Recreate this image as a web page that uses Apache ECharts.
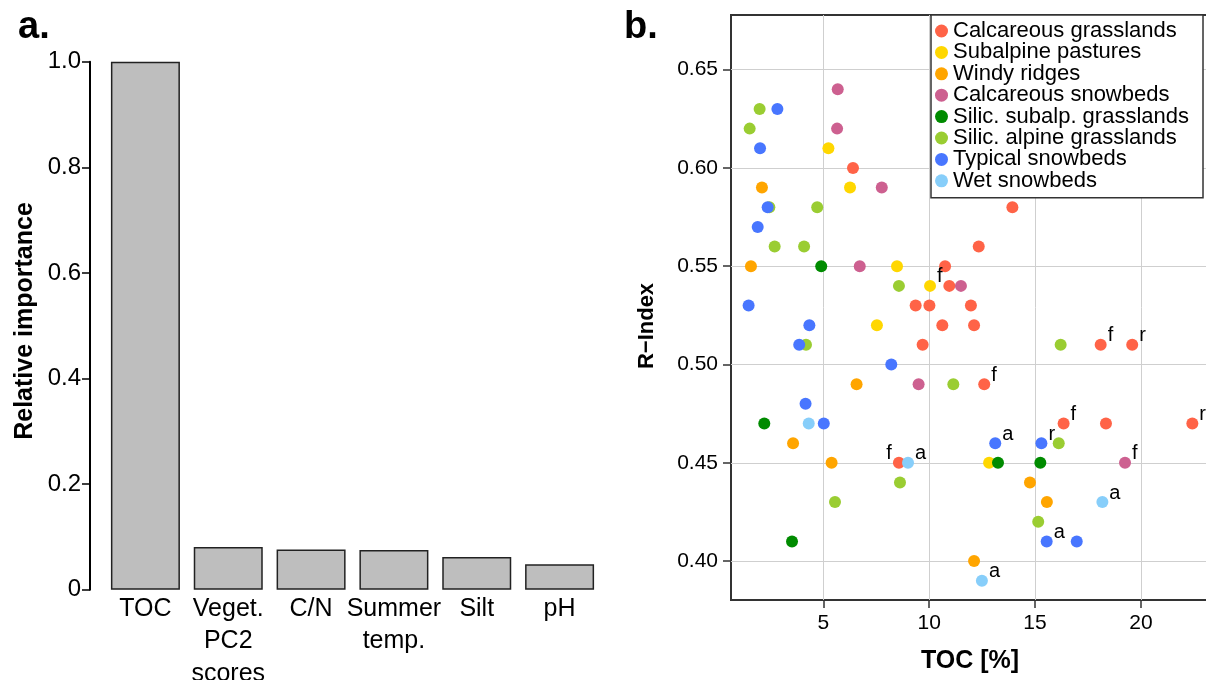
<!DOCTYPE html>
<html>
<head>
<meta charset="utf-8">
<script src="https://cdn.jsdelivr.net/npm/echarts@6/dist/echarts.min.js"></script>
<style>
  html, body { margin: 0; padding: 0; background: #fff; }
  #chart { width: 1206px; height: 680px; }
</style>
</head>
<body>
<div id="chart"></div>
<script>
// ---- Panel a: relative importance of predictors ----
const predictors = ['TOC', 'Veget.\nPC2\nscores', 'C/N', 'Summer\ntemp.', 'Silt', 'pH'];
const importance = [1.0, 0.081, 0.076, 0.075, 0.062, 0.048];
const importanceTicks = [0, 0.2, 0.4, 0.6, 0.8, 1.0];

// ---- Panel b: R-Index against TOC, by vegetation type ----
// each point: [TOC %, R-Index, note]
const calcareousGrasslands = [
  [6.40, 0.60, ''], [13.93, 0.58, ''], [12.34, 0.56, ''], [10.75, 0.55, ''],
  [10.95, 0.54, ''], [9.36, 0.53, ''], [10.01, 0.53, ''], [11.97, 0.53, ''],
  [10.62, 0.52, ''], [12.12, 0.52, ''], [9.69, 0.51, ''], [18.10, 0.51, 'f'],
  [19.59, 0.51, 'r'], [12.60, 0.49, 'f'], [16.35, 0.47, 'f'], [18.35, 0.47, ''],
  [22.43, 0.47, 'r'], [8.57, 0.45, 'f']
];
const subalpinePastures = [
  [5.24, 0.61, ''], [6.26, 0.59, ''], [8.48, 0.55, ''], [10.04, 0.54, 'f'],
  [7.53, 0.52, ''], [12.83, 0.45, '']
];
const windyRidges = [
  [2.10, 0.59, ''], [1.58, 0.55, ''], [6.57, 0.49, ''], [3.57, 0.46, ''],
  [5.39, 0.45, ''], [14.76, 0.44, ''], [15.56, 0.43, ''], [12.12, 0.40, '']
];
const calcareousSnowbeds = [
  [5.68, 0.64, ''], [5.65, 0.62, ''], [7.76, 0.59, ''], [6.72, 0.55, ''],
  [11.50, 0.54, ''], [9.50, 0.49, ''], [19.25, 0.45, 'f']
];
const silicSubalpGrasslands = [
  [4.90, 0.55, ''], [2.21, 0.47, ''], [3.52, 0.41, ''], [13.25, 0.45, ''],
  [15.25, 0.45, '']
];
const silicAlpineGrasslands = [
  [1.99, 0.63, ''], [1.52, 0.62, ''], [2.45, 0.58, ''], [4.71, 0.58, ''],
  [2.70, 0.56, ''], [4.09, 0.56, ''], [8.57, 0.54, ''], [4.18, 0.51, ''],
  [16.21, 0.51, ''], [11.14, 0.49, ''], [16.12, 0.46, ''], [8.62, 0.44, ''],
  [5.55, 0.43, ''], [15.15, 0.42, '']
];
const typicalSnowbeds = [
  [2.83, 0.63, ''], [2.01, 0.61, ''], [2.37, 0.58, ''], [1.90, 0.57, ''],
  [1.47, 0.53, ''], [4.34, 0.52, ''], [3.86, 0.51, ''], [8.21, 0.50, ''],
  [4.16, 0.48, ''], [5.02, 0.47, ''], [13.12, 0.46, 'a'], [15.30, 0.46, 'r'],
  [15.55, 0.41, 'a'], [16.97, 0.41, '']
];
const wetSnowbeds = [
  [4.31, 0.47, ''], [9.00, 0.45, 'a'], [18.18, 0.43, 'a'], [12.49, 0.39, 'a']
];

const groupNames = [
  'Calcareous grasslands', 'Subalpine pastures', 'Windy ridges',
  'Calcareous snowbeds', 'Silic. subalp. grasslands', 'Silic. alpine grasslands',
  'Typical snowbeds', 'Wet snowbeds'
];
const groupData = [
  calcareousGrasslands, subalpinePastures, windyRidges, calcareousSnowbeds,
  silicSubalpGrasslands, silicAlpineGrasslands, typicalSnowbeds, wetSnowbeds
];
const groupColors = [
  '#FF6347', '#FFD700', '#FFA500', '#CD6090',
  '#008B00', '#9ACD32', '#4876FF', '#87CEFA'
];
const tocTicks = [5, 10, 15, 20];
const rIndexTicks = [0.40, 0.45, 0.50, 0.55, 0.60, 0.65];

// notes whose letter sits on the left of the dot, keyed "series|x|y"
const notesOnLeft = ['Calcareous grasslands|8.57|0.45'];

const FONT = '"Liberation Sans", Arial, Helvetica, sans-serif';
const chart = echarts.init(document.getElementById('chart'), null, { renderer: 'canvas' });

const scatterSeries = groupNames.map(function (name, i) {
  return {
    name: name,
    type: 'scatter',
    xAxisIndex: 1,
    yAxisIndex: 1,
    symbol: 'circle',
    symbolSize: 12,
    itemStyle: { color: groupColors[i], opacity: 1 },
    emphasis: { disabled: true },
    data: groupData[i].map(function (p) {
      const item = { value: p };
      if (p[2]) {
        const left = notesOnLeft.indexOf(name + '|' + p[0] + '|' + p[1]) >= 0;
        item.label = {
          show: true,
          formatter: p[2],
          position: left ? 'left' : 'right',
          distance: 1,
          offset: [0, -9],
          color: '#000',
          fontSize: 20,
          fontFamily: FONT
        };
      }
      return item;
    })
  };
});

const option = {
  backgroundColor: '#fff',
  animation: false,
  textStyle: { fontFamily: FONT },
  grid: [
    { left: 104, top: 61.7, width: 497, height: 528, containLabel: false, outerBoundsMode: 'none' },
    { left: 731, top: 15, width: 477, height: 585, containLabel: false, outerBoundsMode: 'none',
      show: true, borderColor: '#333', borderWidth: 2, backgroundColor: 'transparent' }
  ],
  legend: {
    data: groupNames,
    orient: 'vertical',
    left: 931,
    top: 15,
    icon: 'circle',
    itemWidth: 13,
    itemHeight: 13,
    itemGap: -0.6,
    padding: [5, 14, 6, 4],
    backgroundColor: '#fff',
    borderColor: '#333',
    borderWidth: 1.5,
    borderRadius: 0,
    selectedMode: false,
    textStyle: { color: '#000', fontSize: 22, lineHeight: 21, fontFamily: FONT }
  },
  xAxis: [
    {
      gridIndex: 0,
      type: 'category',
      data: predictors,
      axisLine: { show: false },
      axisTick: { show: false },
      axisLabel: { color: '#000', fontSize: 25, lineHeight: 32.5, margin: 3, interval: 0, fontFamily: FONT },
      splitLine: { show: false }
    },
    {
      gridIndex: 1,
      type: 'value',
      min: 0.638,
      max: 23.17,
      axisLine: { show: false },
      axisTick: { show: true, inside: false, length: 8, customValues: tocTicks,
                  lineStyle: { color: '#333', width: 1.5 } },
      axisLabel: { color: '#000', fontSize: 21, margin: 13, customValues: tocTicks, fontFamily: FONT },
      splitLine: { show: true, lineStyle: { color: '#cfcfcf', width: 1 } }
    }
  ],
  yAxis: [
    {
      gridIndex: 0,
      type: 'value',
      min: 0,
      max: 1,
      interval: 0.2,
      offset: 14,
      axisLine: { show: true, lineStyle: { color: '#000', width: 2 } },
      axisTick: { show: true, inside: false, length: 8, lineStyle: { color: '#000', width: 1.5 } },
      axisLabel: {
        color: '#000', fontSize: 24, margin: 9, fontFamily: FONT,
        formatter: function (v) { return v === 0 ? '0' : v.toFixed(1); }
      },
      splitLine: { show: false }
    },
    {
      gridIndex: 1,
      type: 'value',
      min: 0.3802,
      max: 0.6778,
      axisLine: { show: false },
      axisTick: { show: true, inside: false, length: 8, customValues: rIndexTicks,
                  lineStyle: { color: '#333', width: 1.5 } },
      axisLabel: {
        color: '#000', fontSize: 21, margin: 13, customValues: rIndexTicks, fontFamily: FONT,
        formatter: function (v) { return v.toFixed(2); }
      },
      splitLine: { show: true, lineStyle: { color: '#cfcfcf', width: 1 } }
    }
  ],
  series: [
    {
      type: 'bar',
      xAxisIndex: 0,
      yAxisIndex: 0,
      data: importance,
      barWidth: 69,
      itemStyle: { color: '#BEBEBE', borderColor: '#222', borderWidth: 1.5 },
      emphasis: { disabled: true }
    }
  ].concat(scatterSeries),
  graphic: [
    { type: 'text', left: 18, top: 9, style: { text: 'a.', font: 'bold 38px ' + FONT, fill: '#000' } },
    { type: 'text', left: 624, top: 9, style: { text: 'b.', font: 'bold 38px ' + FONT, fill: '#000' } },
    { type: 'text', x: 25, y: 321, rotation: Math.PI / 2,
      style: { text: 'Relative importance', font: 'bold 25px ' + FONT, fill: '#000',
               textAlign: 'center', textVerticalAlign: 'middle' } },
    { type: 'text', x: 647, y: 326, rotation: Math.PI / 2,
      style: { text: 'R\u2212Index', font: 'bold 22px ' + FONT, fill: '#000',
               textAlign: 'center', textVerticalAlign: 'middle' } },
    { type: 'text', x: 970, y: 661,
      style: { text: 'TOC [%]', font: 'bold 25px ' + FONT, fill: '#000',
               textAlign: 'center', textVerticalAlign: 'middle' } }
  ]
};

chart.setOption(option);
</script>
</body>
</html>
